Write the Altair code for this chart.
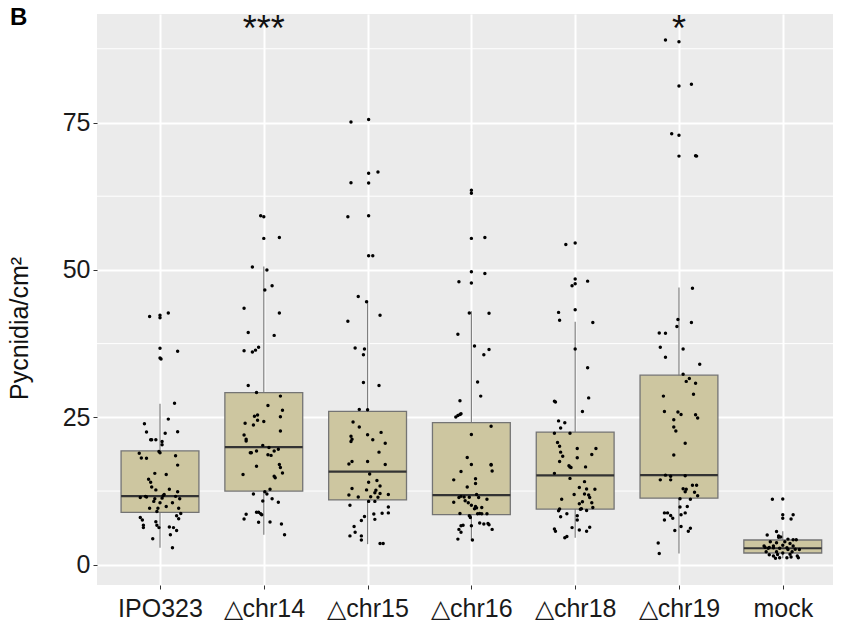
import altair as alt
import pandas as pd

categories = ["IPO323", "△chr14", "△chr15", "△chr16", "△chr18", "△chr19", "mock"]
panel_label = ["B"]

# box summary (Pycnidia/cm2)
q1 = [8.9, 12.5, 11.0, 8.5, 9.45, 11.3, 2.0]
median = [11.65, 19.95, 15.8, 11.8, 15.15, 15.2, 2.8]
q3 = [19.3, 29.2, 26.0, 24.1, 22.5, 32.15, 4.2]
whisker_lo = [2.9, 5.1, 3.5, 4.2, 4.6, 1.9, 1.1]
whisker_hi = [27.3, 50.6, 44.8, 43.0, 41.2, 47.0, 5.7]

# individual observations (y) and their horizontal jitter (in category units)
y_ipo323 = [42.1, 42.3, 41.9, 42.7, 36.7, 36.2, 35.05, 34.9, 27.4, 24.7, 23.9, 22.5, 22.55, 22.3, 21.2, 21.2, 21.2,
            20.9, 20.35, 19.2, 19.0, 18.9, 18.5, 18.1, 18.05, 16.9, 15.5, 15.3, 14.5, 14.0, 13.2, 12.7, 12.8, 12.4,
            11.9, 11.7, 11.4, 11.6, 11.5, 11.6, 11.2, 11.2, 11.3, 10.75, 10.5, 10.5, 9.9, 9.6, 9.6, 9.05, 9.6, 8.7,
            8.0, 7.6, 8.3, 7.8, 6.7, 6.3, 7.3, 6.7, 6.3, 6.4, 6.3, 5.8, 5.1, 4.4, 2.9]
j_ipo323 = [-0.10, 0, 0, 0.08, 0, 0.17, 0, 0.01, 0.14, 0.08, -0.15, -0.13, 0.17, 0.05, -0.09, -0.08, -0.04, 0.02,
            0.02, -0.01, 0, -0.20, 0.15, -0.18, -0.13, 0.17, -0.05, 0.06, -0.11, -0.09, -0.08, -0.04, 0.09, 0.17,
            0.04, 0.03, -0.19, -0.14, -0.13, 0.15, 0.19, -0.05, 0.02, -0.06, 0, 0.12, 0.06, -0.10, -0.02, -0.03,
            0.18, 0.20, -0.19, -0.17, 0.16, 0.18, -0.16, -0.16, -0.04, -0.03, -0.01, 0.09, 0.13, 0.16, 0.10, -0.07,
            0.12]

y_chr14 = [59.2, 59.0, 55.35, 55.5, 50.5, 50.0, 47.3, 46.6, 43.5, 42.7, 39.4, 38.9, 36.9, 36.4, 36.1, 36.3, 30.4,
           29.2, 28.6, 27.0, 26.2, 25.4, 25.2, 24.5, 24.3, 25.1, 24.0, 23.7, 22.7, 22.0, 21.3, 21.0, 20.25, 19.9,
           19.3, 19.6, 19.3, 19.0, 19.0, 18.65, 18.55, 17.0, 16.5, 16.7, 15.0, 14.75, 15.55, 15.3, 12.8, 12.4, 12.0,
           12.0, 11.2, 10.8, 10.6, 8.9, 8.9, 8.65, 8.5, 8.55, 7.75, 7.2, 7.25, 6.9, 5.1]
j_chr14 = [-0.03, 0, 0, 0.15, -0.11, 0.03, 0.08, 0.01, -0.19, 0.15, -0.15, 0.10, -0.05, -0.08, -0.11, -0.19, -0.15,
           -0.07, 0.16, 0.04, 0.18, -0.06, -0.09, -0.06, 0, 0.16, -0.18, -0.10, 0.16, -0.19, -0.17, -0.17, -0.01,
           0.05, 0.10, 0.14, -0.07, -0.12, -0.13, 0.04, 0.07, 0.15, 0.16, -0.07, 0.10, 0.11, 0.18, -0.20, 0.06,
           0.01, 0.03, -0.10, 0.08, -0.01, 0.14, -0.07, -0.05, -0.03, -0.02, -0.17, -0.19, -0.05, 0.06, 0.17, 0.20]

y_chr15 = [75.1, 75.5, 66.6, 66.4, 64.8, 64.75, 59.0, 59.2, 52.4, 52.4, 45.5, 44.6, 41.3, 42.3, 36.75, 36.6, 35.6,
           30.9, 30.4, 26.35, 26.3, 24.2, 23.35, 22.45, 22.05, 21.8, 20.9, 21.3, 21.2, 20.6, 19.1, 17.5, 17.5, 17.1,
           17.0, 15.4, 14.3, 14.0, 13.35, 12.95, 12.7, 12.65, 12.2, 12.1, 11.9, 11.85, 11.5, 11.55, 11.45, 10.75,
           10.75, 10.1, 9.8, 8.8, 8.75, 8.6, 8.2, 7.7, 7.5, 6.5, 5.5, 4.9, 4.9, 4.2, 3.6, 3.6]
j_chr15 = [-0.16, 0.01, 0.10, 0.01, -0.16, 0.01, -0.19, 0.01, 0.01, 0.05, -0.09, -0.01, -0.19, 0.12, -0.12, -0.03,
           -0.04, -0.04, 0.11, -0.08, 0, -0.14, -0.08, 0.13, 0, -0.16, -0.16, -0.15, 0.05, 0.17, 0.11, 0, -0.15,
           -0.18, 0.17, 0.02, 0.09, 0.01, 0.12, -0.15, -0.01, 0.08, 0.07, 0.12, 0.20, -0.18, -0.09, 0.03, 0.10,
           0.01, 0.07, -0.17, 0.20, 0.20, 0.14, 0.06, -0.03, 0.07, -0.06, -0.13, -0.12, -0.17, -0.06, -0.06, 0.12,
           0.15]

y_chr16 = [63.5, 63.0, 55.35, 55.5, 49.7, 49.4, 48.0, 47.8, 42.7, 42.65, 39.1, 37.1, 36.5, 35.6, 31.0, 28.6, 27.8,
           25.5, 25.3, 25.05, 25.6, 23.5, 22.1, 18.2, 17.0, 17.0, 16.9, 15.9, 15.8, 14.6, 14.4, 13.8, 13.2, 11.9,
           11.6, 11.5, 11.45, 11.4, 11.4, 11.1, 10.6, 10.85, 10.5, 10.1, 9.9, 9.65, 9.5, 9.7, 8.7, 8.65, 8.65, 8.7,
           8.65, 8.3, 8.0, 6.6, 7.1, 6.9, 7.0, 6.8, 6.7, 6.6, 6.0, 6.0, 5.5, 4.35, 4.2]
j_chr16 = [0, 0, 0, 0.13, 0, 0.13, -0.12, 0, -0.02, 0.17, -0.13, 0.03, 0.17, 0.12, 0.06, 0.09, -0.11, -0.11, -0.13,
           -0.15, -0.10, 0.19, 0, -0.04, 0, 0.19, 0.19, 0.20, -0.10, 0.04, -0.17, 0.04, -0.04, 0.05, -0.10, -0.07,
           -0.02, 0.07, -0.12, 0.15, -0.17, -0.06, -0.03, 0, 0.04, 0.05, 0.03, 0.10, 0.08, 0.10, 0.06, -0.11, 0.15,
           -0.02, -0.01, 0, 0.08, 0.12, 0.16, 0.17, -0.08, -0.10, -0.12, 0.20, -0.10, -0.13, 0.01]

y_chr18 = [54.3, 54.55, 48.45, 48.1, 47.65, 47.3, 42.8, 43.25, 41.45, 41.1, 36.6, 33.4, 27.75, 27.6, 28.3, 26.0,
           24.4, 24.1, 23.2, 22.3, 22.3, 20.75, 20.1, 19.7, 19.7, 19.1, 18.7, 18.4, 18.15, 17.5, 16.8, 16.6, 16.5,
           16.6, 14.65, 15.5, 14.1, 13.1, 12.85, 12.8, 12.0, 11.9, 11.85, 11.4, 11.1, 10.7, 10.35, 10.5, 9.7, 9.5,
           9.2, 9.4, 9.45, 9.15, 8.65, 8.3, 8.15, 7.6, 6.3, 6.35, 6.05, 5.7, 5.9, 5.7, 4.8, 4.6]
j_chr18 = [-0.09, 0, 0, 0.12, 0, -0.03, -0.16, 0, -0.15, 0.17, 0, 0.12, -0.20, -0.19, 0.13, 0.07, -0.16, -0.10,
           -0.14, -0.20, -0.05, -0.17, -0.15, 0.20, 0.02, -0.14, 0.16, -0.12, 0.02, -0.15, -0.06, -0.05, -0.04,
           0.10, -0.05, -0.20, 0.09, 0.04, 0.11, 0.19, 0.09, -0.01, 0.13, 0.14, -0.13, 0.07, 0.04, 0.16, 0.17,
           0.06, 0.11, 0.05, -0.15, -0.16, -0.08, 0.02, -0.14, 0.02, -0.03, 0.14, -0.20, -0.19, 0.04, 0.11, -0.08,
           -0.10]

y_chr19 = [89.0, 88.7, 81.2, 81.5, 73.1, 72.85, 69.3, 69.35, 69.3, 46.9, 41.6, 40.4, 41.1, 39.3, 39.25, 36.9, 36.6,
           35.2, 34.0, 32.3, 31.6, 31.1, 30.8, 28.6, 28.9, 26.0, 25.9, 25.5, 25.45, 24.9, 24.6, 23.35, 22.7, 20.6,
           18.6, 15.2, 15.0, 14.4, 14.4, 15.1, 12.9, 12.8, 13.5, 13.5, 12.3, 11.7, 11.1, 12.4, 11.2, 9.8, 9.9, 8.8,
           8.8, 8.35, 7.9, 8.8, 8.5, 7.6, 6.5, 6.2, 5.7, 5.8, 3.7, 1.9]
j_chr19 = [-0.13, 0, 0, 0.12, -0.07, 0, 0, 0.16, 0.17, 0.13, -0.01, -0.02, 0.12, -0.19, -0.13, -0.18, 0.04, -0.13,
           0.20, 0.04, 0.10, 0.07, 0.16, -0.15, 0.14, -0.14, -0.01, 0.02, 0.16, 0.18, -0.05, -0.05, -0.03, 0.06,
           -0.05, -0.13, -0.08, -0.18, -0.08, 0.06, 0.04, 0.07, 0.13, 0.17, 0.15, 0.18, 0.11, 0.06, 0.01, 0.01,
           0.08, -0.14, -0.11, -0.08, -0.06, 0.06, 0.02, -0.14, 0.02, 0.11, 0.09, -0.04, -0.20, -0.19]

y_mock = [11.1, 11.15, 8.5, 7.9, 8.5, 7.75, 5.65, 5.05, 4.9, 4.7, 4.65, 4.35, 4.25, 4.25, 3.9, 3.9, 3.6, 3.2, 3.2,
          2.95, 2.8, 2.9, 2.8, 2.65, 2.6, 2.9, 2.2, 2.2, 2.0, 1.8, 1.5, 1.5, 1.7, 1.1, 1.2, 1.2, 1.3, 1.2, 1.75,
          2.95, 3.2, 3.3, 3.75, 2.6, 2.2]
j_mock = [-0.10, 0, 0, 0, 0.10, 0.08, -0.06, -0.15, -0.04, -0.02, -0.04, 0.05, 0.10, 0.13, -0.12, 0.02, 0.07,
          -0.18, -0.09, -0.17, -0.14, -0.09, -0.03, 0.12, 0.16, 0.04, -0.16, -0.06, 0, 0.07, 0.14, -0.09, -0.13,
          -0.07, -0.03, 0.04, 0.08, 0.15, -0.05, -0.13, 0.10, 0, -0.06, 0.05, 0.09]

star_pos = [2, 6]
star_text = ["***", "*"]
star_y = [88.9, 88.9]

y_ticks = [0, 25, 50, 75]
y_minor = [12.5, 37.5, 62.5, 87.5]

groups_y = [y_ipo323, y_chr14, y_chr15, y_chr16, y_chr18, y_chr19, y_mock]
groups_j = [j_ipo323, j_chr14, j_chr15, j_chr16, j_chr18, j_chr19, j_mock]

rows = []
for i, (ys, js) in enumerate(zip(groups_y, groups_j)):
    for yv, jv in zip(ys, js):
        rows.append({"cat": categories[i], "px": i + 1 + jv, "py": yv})
points = pd.DataFrame(rows)

boxes = pd.DataFrame({
    "cat": categories,
    "pos": [i + 1 for i in range(len(categories))],
    "left": [i + 1 - 0.375 for i in range(len(categories))],
    "right": [i + 1 + 0.375 for i in range(len(categories))],
    "q1": q1, "med": median, "q3": q3, "lo": whisker_lo, "hi": whisker_hi,
})
stars = pd.DataFrame({"pos": star_pos, "txt": star_text, "y": star_y})
minor = pd.DataFrame({"v": y_minor})

FONT = "Liberation Sans"
xscale = alt.Scale(domain=[0.393, 7.484], nice=False, zero=False)
yscale = alt.Scale(domain=[-3.43, 93.4], nice=False, zero=False)
label_expr = "[" + ",".join("'" + c + "'" for c in categories) + "][datum.value - 1]"
xaxis = alt.Axis(values=list(range(1, len(categories) + 1)), labelExpr=label_expr, title=None,
                 labelFontSize=25, labelPadding=7, labelFont=FONT, labelColor="#1a1a1a")
yaxis = alt.Axis(values=y_ticks, title="Pycnidia/cm²", labelFontSize=25, labelPadding=3, labelFont=FONT,
                 labelColor="#1a1a1a", titleFontSize=25, titleFont=FONT, titleFontWeight="normal",
                 titleColor="#111111", titleAngle=-90, titleBaseline="alphabetic", titleAlign="center",
                 titleX=-70, titleY=314)


def X(field):
    return alt.X(field, scale=xscale, axis=xaxis)


def Y(field):
    return alt.Y(field, scale=yscale, axis=yaxis)


minor_layer = alt.Chart(minor).mark_rule(color="white", strokeWidth=1).encode(y=Y("v:Q"))

whisk = alt.Chart(boxes).mark_rule(color="#7f7f7f", strokeWidth=1.2).encode(
    x=X("pos:Q"), y=Y("lo:Q"), y2="hi:Q")

box = alt.Chart(boxes).mark_bar(fill="#cdc6a0", stroke="#747474", strokeWidth=1.3).encode(
    x=X("left:Q"), x2="right:Q", y=Y("q1:Q"), y2="q3:Q")

med = alt.Chart(boxes).mark_rule(color="#333333", strokeWidth=2.2).encode(
    x=X("left:Q"), x2="right:Q", y=Y("med:Q"))

pts = alt.Chart(points).mark_circle(size=12, color="black", opacity=1).encode(
    x=X("px:Q"), y=Y("py:Q"))

star_layer = alt.Chart(stars).mark_text(fontSize=36, font=FONT, baseline="alphabetic", align="center",
                                        color="#111111").encode(
    x=X("pos:Q"), y=Y("y:Q"), text="txt:N")

label_layer = alt.Chart(pd.DataFrame({"t": panel_label})).mark_text(
    fontSize=24, fontWeight="bold", font=FONT, baseline="alphabetic", align="left", color="black"
).encode(x=alt.value(-87), y=alt.value(11), text="t:N")

chart = alt.layer(minor_layer, whisk, box, med, pts, star_layer, label_layer).properties(
    width=736, height=571,
    padding={"left": 89, "top": 6, "right": 0, "bottom": 36},
    autosize=alt.AutoSizeParams(type="none"),
).configure_view(
    fill="#ebebeb", stroke=None
).configure_axis(
    domain=False, grid=True, gridColor="white", gridWidth=2, tickColor="#333333", tickSize=4, tickWidth=1
)

chart.save("out.html", embed_options={"renderer": "svg", "actions": False})
